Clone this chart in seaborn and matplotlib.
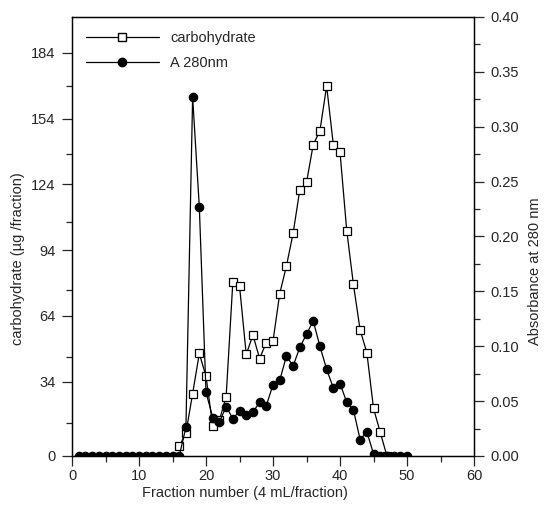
import matplotlib
matplotlib.use("Agg")
import matplotlib.pyplot as plt
from matplotlib.lines import Line2D
import seaborn as sns

# Gel-filtration elution profile: carbohydrate content and absorbance at 280 nm
a280_fraction = [1, 2, 3, 4, 5, 6, 7, 8, 9, 10, 11, 12, 13, 14, 15, 16, 17, 18, 19, 20,
                 21, 22, 23, 24, 25, 26, 27, 28, 29, 30, 31, 32, 33, 34, 35, 36, 37, 38, 39, 40,
                 41, 42, 43, 44, 45, 46, 47, 48, 49, 50]
a280_value = [0.0, 0.0, 0.0, 0.0, 0.0, 0.0, 0.0, 0.0, 0.0, 0.0, 0.0, 0.0, 0.0, 0.0, 0.0, 0.0,
              0.026, 0.327, 0.227, 0.058, 0.035, 0.031, 0.045, 0.034, 0.041, 0.037, 0.040,
              0.049, 0.046, 0.065, 0.069, 0.091, 0.082, 0.099, 0.111, 0.123, 0.100, 0.079,
              0.062, 0.066, 0.049, 0.042, 0.015, 0.022, 0.002, 0.0, 0.0, 0.0, 0.0, 0.0]

carb_fraction = [16, 17, 18, 19, 20, 21, 22, 23, 24, 25, 26, 27, 28, 29, 30, 31, 32, 33,
                 34, 35, 36, 37, 38, 39, 40, 41, 42, 43, 44, 45, 46, 47]
carb_value = [4.4, 10.5, 28.5, 46.8, 36.3, 13.8, 16.4, 27.0, 79.4, 77.6, 46.4, 55.2, 44.5,
              51.8, 52.5, 74.1, 86.7, 101.7, 121.6, 124.9, 142.1, 148.5, 168.9, 142.1, 138.6,
              102.9, 78.3, 57.5, 47.2, 21.7, 10.8, 0.0]

x_ticks = [0, 10, 20, 30, 40, 50, 60]
carb_ticks = [0, 34, 64, 94, 124, 154, 184]
a280_ticks = [0.00, 0.05, 0.10, 0.15, 0.20, 0.25, 0.30, 0.35, 0.40]

sns.set_style("ticks")
plt.rcParams["font.family"] = ["Liberation Sans", "DejaVu Sans"]
plt.rcParams["axes.linewidth"] = 0.9

fig = plt.figure(figsize=(5.46, 5.07), dpi=100)
ax = fig.add_axes([0.1319, 0.1006, 0.7363, 0.8659])
ax2 = ax.twinx()

line_kw = dict(color="black", linewidth=0.9, markeredgecolor="black", markeredgewidth=0.9)
sns.lineplot(x=carb_fraction, y=carb_value, ax=ax, marker="s", markersize=6.2,
             markerfacecolor="white", **line_kw)
sns.lineplot(x=a280_fraction, y=a280_value, ax=ax2, marker="o", markersize=6.0,
             markerfacecolor="black", **line_kw)

ax.set_xlim(0, 60)
ax.set_ylim(0, 200.4)
ax2.set_ylim(0, 0.40)

ax.set_xticks(x_ticks)
ax.set_xticks([5, 15, 25, 35, 45, 55], minor=True)
ax.set_yticks(carb_ticks)
ax.set_yticklabels([str(v) for v in carb_ticks])
ax.set_yticks([15, 45, 76, 107, 138, 169], minor=True)
ax2.set_yticks(a280_ticks)
ax2.set_yticklabels([f"{v:.2f}" for v in a280_ticks])
ax2.set_yticks([0.025, 0.075, 0.125, 0.175, 0.225, 0.275, 0.325, 0.375], minor=True)

for a in (ax, ax2):
    a.tick_params(which="major", length=7, width=0.9, labelsize=10.5, pad=5, direction="out")
    a.tick_params(which="minor", length=4, width=0.9, direction="out")
    for s in a.spines.values():
        s.set_visible(True)
        s.set_linewidth(0.9)
        s.set_color("black")
ax.tick_params(axis="x", which="major", pad=2.5)

ax.set_xlabel("Fraction number (4 mL/fraction)", fontsize=10.5, va="center")
ax.set_ylabel("carbohydrate (\u00b5g /fraction)", fontsize=10.5, va="center")
ax2.set_ylabel("Absorbance at 280 nm", fontsize=10.5, va="center", rotation=90)
ax.xaxis.set_label_coords(0.43, -0.084)
ax.yaxis.set_label_coords(-0.134, 0.45)
ax2.yaxis.set_label_coords(1.152, 0.42)

handles = [
    Line2D([], [], color="black", linewidth=0.9, marker="s", markersize=6.2,
           markerfacecolor="white", markeredgecolor="black"),
    Line2D([], [], color="black", linewidth=0.9, marker="o", markersize=6.0,
           markerfacecolor="black", markeredgecolor="black"),
]
ax2.legend(handles, ["carbohydrate", "A 280nm"], loc="upper left", frameon=False,
           fontsize=10.5, handlelength=5.0, handletextpad=0.8, labelspacing=0.75,
           borderaxespad=0.4, bbox_to_anchor=(0.005, 0.995))

fig.savefig("out.png", dpi=100, facecolor="white")
